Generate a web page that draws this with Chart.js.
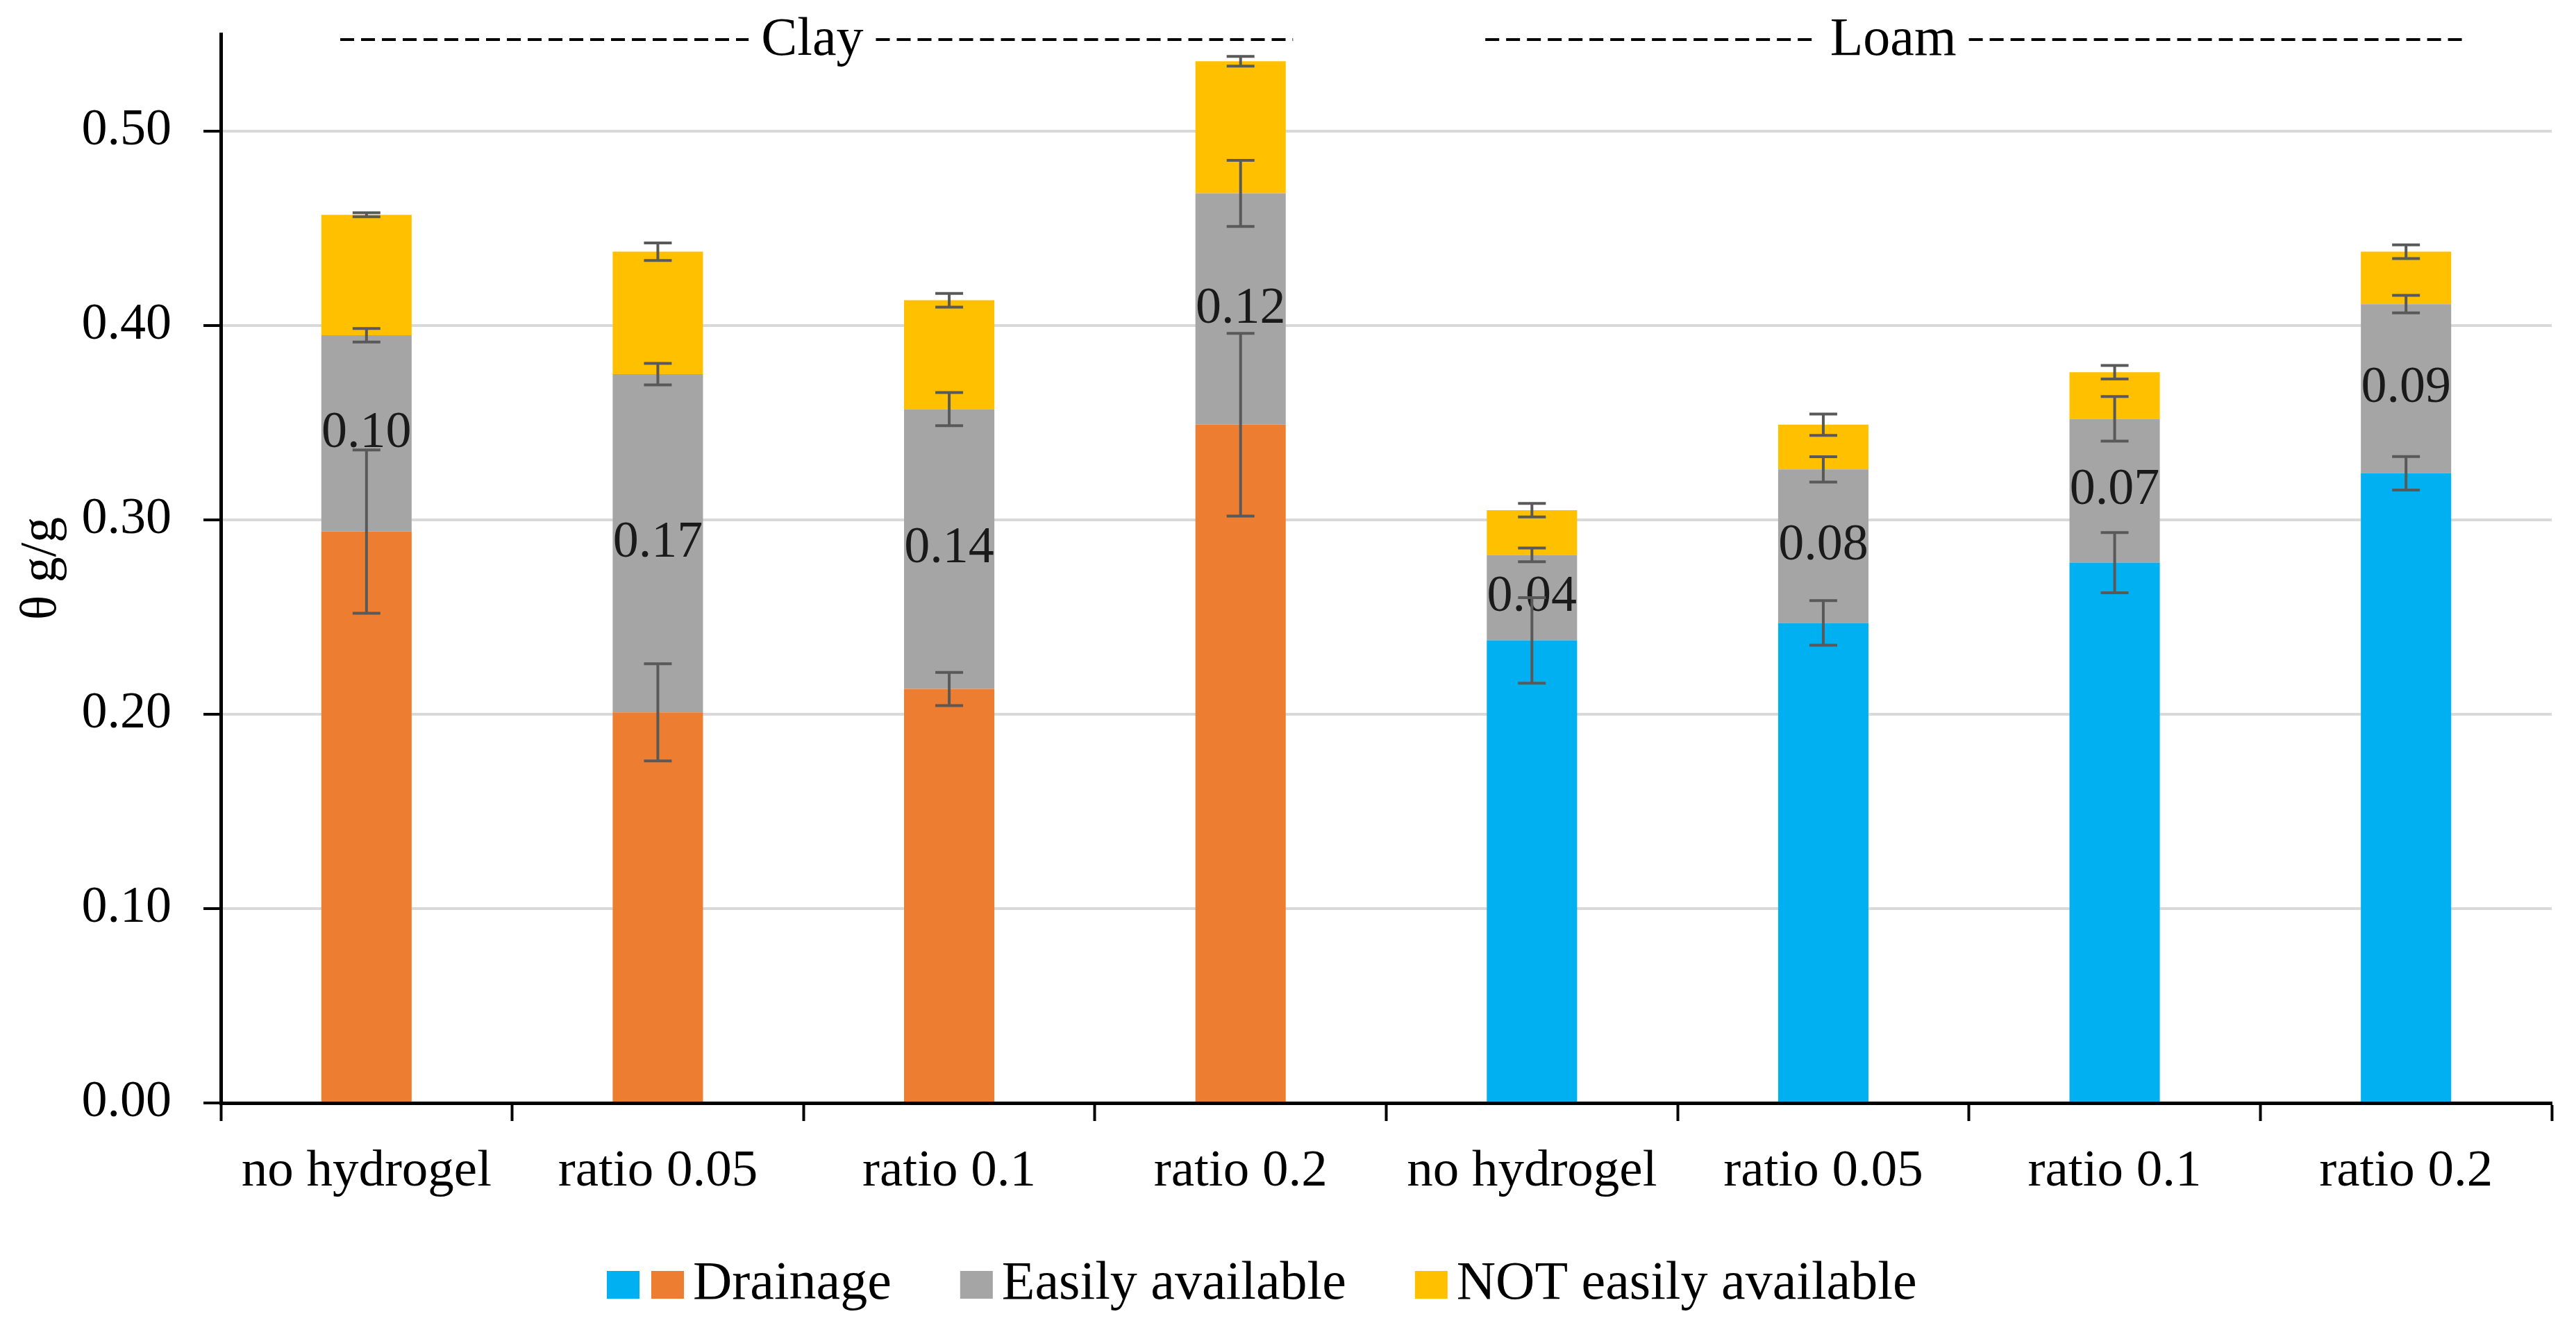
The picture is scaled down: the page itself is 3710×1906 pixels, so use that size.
<!DOCTYPE html>
<html>
<head>
<meta charset="utf-8">
<title>Water content</title>
<script src="https://cdn.jsdelivr.net/npm/chart.js@4.4.1/dist/chart.umd.min.js"></script>
<style>
  html, body { margin: 0; padding: 0; background: #fff; }
  #wrap { width: 3710px; height: 1906px; }
</style>
</head>
<body>
<div id="wrap"><canvas id="chart" width="3710" height="1906"></canvas></div>
<script>
// values (theta g/g)
var categories = ["no hydrogel", "ratio 0.05", "ratio 0.1", "ratio 0.2", "no hydrogel", "ratio 0.05", "ratio 0.1", "ratio 0.2"];
var groupNames = ["Clay", "Loam"];
var drainage = [0.294, 0.201, 0.213, 0.349, 0.238, 0.247, 0.278, 0.324];
var easilyAvailable = [0.101, 0.174, 0.144, 0.119, 0.044, 0.079, 0.074, 0.087];
var notEasilyAvailable = [0.062, 0.063, 0.056, 0.068, 0.023, 0.023, 0.024, 0.027];
var drainageErr = [0.042, 0.025, 0.0085, 0.047, 0.022, 0.0115, 0.0155, 0.0086];
var easilyErr = [0.0035, 0.0055, 0.0085, 0.017, 0.0035, 0.0065, 0.0115, 0.0045];
var notEasilyErr = [0.001, 0.0045, 0.0035, 0.0025, 0.0035, 0.0055, 0.0035, 0.0035];
var yTicks = [0, 0.1, 0.2, 0.3, 0.4, 0.5];

var FONT = "'Liberation Serif', 'DejaVu Serif', serif";
var ORANGE = "#ED7D31", BLUE = "#00B0F0", GREY = "#A5A5A5", GOLD = "#FFC000";

var drainageColors = categories.map(function (c, i) { return i < 4 ? ORANGE : BLUE; });

// error bars on top of each stacked segment
var errorBarsPlugin = {
    id: "errorBars",
    afterDatasetsDraw: function (chart) {
        var ctx = chart.ctx, y = chart.scales.y;
        var errs = [drainageErr, easilyErr, notEasilyErr];
        ctx.save();
        ctx.strokeStyle = "#595959";
        ctx.lineWidth = 4;
        // segment labels first, so the bars cross them as in the original
        var meta1 = chart.getDatasetMeta(1);
        ctx.fillStyle = "#1a1a1a";
        ctx.font = "74px " + FONT;
        ctx.textAlign = "center";
        ctx.textBaseline = "middle";
        meta1.data.forEach(function (bar, j) {
            ctx.fillText(easilyAvailable[j].toFixed(2), bar.x, (bar.y + bar.base) / 2);
        });
        errs.forEach(function (err, i) {
            var meta = chart.getDatasetMeta(i);
            meta.data.forEach(function (bar, j) {
                var top = 0;
                for (var k = 0; k <= i; k++) top += chart.data.datasets[k].data[j];
                var y1 = y.getPixelForValue(top + err[j]), y2 = y.getPixelForValue(top - err[j]);
                ctx.beginPath();
                ctx.moveTo(bar.x, y1); ctx.lineTo(bar.x, y2);
                ctx.moveTo(bar.x - 20, y1); ctx.lineTo(bar.x + 20, y1);
                ctx.moveTo(bar.x - 20, y2); ctx.lineTo(bar.x + 20, y2);
                ctx.stroke();
            });
        });
        ctx.restore();
    }
};

// "----- Clay -----" style headers and the legend
var decorPlugin = {
    id: "decor",
    afterDraw: function (chart) {
        var ctx = chart.ctx, x = chart.scales.x;
        ctx.save();
        ctx.font = "78px " + FONT;
        ctx.fillStyle = "#000";
        ctx.textBaseline = "alphabetic";
        ctx.textAlign = "center";
        var spans = [[-0.09, 1.53, 3.18], [3.84, 5.24, 7.2]];
        groupNames.forEach(function (name, g) {
            var x0 = x.getPixelForValue(spans[g][0]), xc = x.getPixelForValue(spans[g][1]), x1 = x.getPixelForValue(spans[g][2]);
            var w = ctx.measureText(name).width;
            ctx.fillText(name, xc, 79);
            ctx.strokeStyle = "#000";
            ctx.lineWidth = 4;
            ctx.setLineDash([20, 10]);
            ctx.beginPath();
            ctx.moveTo(x0, 57); ctx.lineTo(xc - w / 2 - 18, 57);
            ctx.moveTo(xc + w / 2 + 18, 57); ctx.lineTo(x1, 57);
            ctx.stroke();
            ctx.setLineDash([]);
        });

        // legend
        var items = [
            { colors: [BLUE, ORANGE], text: "Drainage" },
            { colors: [GREY], text: "Easily available" },
            { colors: [GOLD], text: "NOT easily available" }
        ];
        var sq = 47, sqGap = 17, txtGap = 13, itemGap = 99;
        var cx = 874, cy = 1851;
        ctx.textAlign = "left";
        ctx.textBaseline = "alphabetic";
        items.forEach(function (it) {
            var px = cx;
            it.colors.forEach(function (c) {
                ctx.fillStyle = c;
                ctx.fillRect(px, cy - 20, sq, 40);
                px += sq + sqGap;
            });
            px += txtGap - sqGap;
            ctx.fillStyle = "#000";
            ctx.fillText(it.text, px, 1871);
            cx = px + ctx.measureText(it.text).width + itemGap;
        });
        ctx.restore();
    }
};

new Chart(document.getElementById("chart"), {
    type: "bar",
    data: {
        labels: categories,
        datasets: [
            { label: "Drainage", data: drainage, backgroundColor: drainageColors },
            { label: "Easily available", data: easilyAvailable, backgroundColor: GREY },
            { label: "NOT easily available", data: notEasilyAvailable, backgroundColor: GOLD }
        ]
    },
    options: {
        responsive: false,
        animation: false,
        devicePixelRatio: 1,
        layout: { padding: { top: 49, right: 35, bottom: 0, left: 0 } },
        datasets: { bar: { categoryPercentage: 1, barPercentage: 0.31 } },
        plugins: { legend: { display: false }, tooltip: { enabled: false } },
        scales: {
            x: {
                stacked: true,
                afterFit: function (s) { s.height = 317; },
                border: { color: "#000", width: 5 },
                grid: { drawOnChartArea: false, drawTicks: true, tickLength: 26, tickColor: "#000", tickWidth: 4, offset: true },
                ticks: { color: "#000", font: { family: FONT, size: 75 }, padding: 28, maxRotation: 0, autoSkip: false }
            },
            y: {
                stacked: true,
                min: 0,
                max: 0.55,
                afterFit: function (s) { s.width = 318; s.paddingTop = 0; s.paddingBottom = 0; },
                afterBuildTicks: function (s) { s.ticks = yTicks.map(function (v) { return { value: v }; }); },
                border: { color: "#000", width: 5 },
                grid: { color: "#D9D9D9", lineWidth: 4, tickLength: 25, tickColor: "#000", tickWidth: 4 },
                ticks: {
                    color: "#000", font: { family: FONT, size: 74 }, padding: 46,
                    callback: function (v) { return v.toFixed(2); }
                },
                title: { display: true, text: "θ g/g", color: "#000", font: { family: FONT, size: 74 }, padding: { top: 16, bottom: 0 } }
            }
        }
    },
    plugins: [errorBarsPlugin, decorPlugin]
});
</script>
</body>
</html>
